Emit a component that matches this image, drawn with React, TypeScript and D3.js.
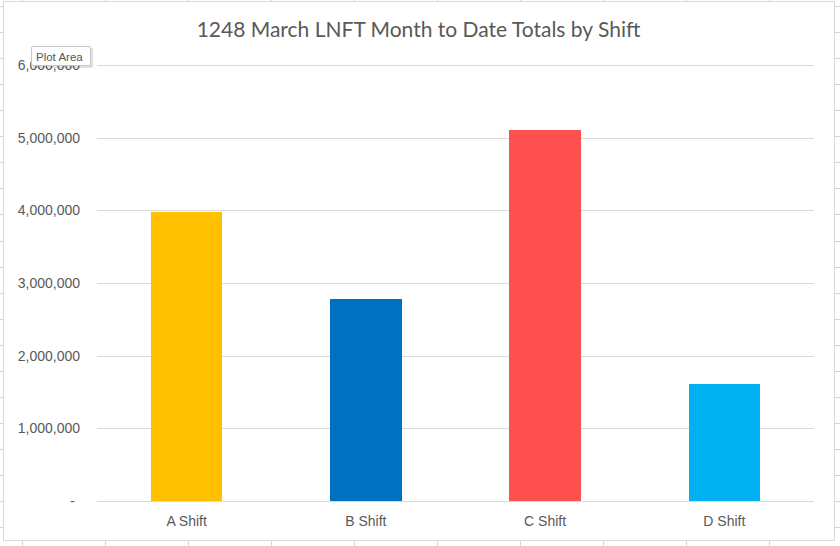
import React from "react";
import * as d3 from "d3";

const categories = ["A Shift", "B Shift", "C Shift", "D Shift"];
const values = [3975000, 2785000, 5110000, 1615000];
const barColors = ["#FFC000", "#0070C0", "#FF5050", "#00B0F0"];
const yTicks = [0, 1000000, 2000000, 3000000, 4000000, 5000000, 6000000];
const title = "1248 March LNFT Month to Date Totals by Shift";

const W = 840;
const H = 546;

export default function App() {
  const plot = { left: 97, right: 814, top: 65, bottom: 501 };
  const y = d3.scaleLinear().domain([0, 6000000]).range([plot.bottom, plot.top]);
  const x = d3
    .scaleBand<string>()
    .domain(categories)
    .range([plot.left, plot.right])
    .paddingInner(0.6)
    .paddingOuter(0.3);
  const fmt = d3.format(",");

  const chart = { x0: 3.5, y0: 1.5, x1: 834.5, y1: 540.5 };
  const colLines = d3.range(22, W + 1, 83);
  const rowLines = d3.range(6, H + 1, 26.06);
  const cellColor = "#d6d6d6";
  const textColor = "#595959";

  return (
    <svg
      width={W}
      height={H}
      style={{ position: "absolute", left: 0, top: 0, background: "#fff" }}
    >
      {/* spreadsheet cell grid behind chart */}
      <g shapeRendering="crispEdges">
        {colLines.map((cx, i) => (
          <line key={"c" + i} x1={cx + 0.5} x2={cx + 0.5} y1={0} y2={H} stroke={cellColor} />
        ))}
        {rowLines.map((ry, i) => (
          <line key={"r" + i} x1={0} x2={W} y1={Math.round(ry) + 0.5} y2={Math.round(ry) + 0.5} stroke={cellColor} />
        ))}
      </g>
      {/* chart area */}
      <rect
        x={chart.x0}
        y={chart.y0}
        width={chart.x1 - chart.x0}
        height={chart.y1 - chart.y0}
        fill="#fff"
        stroke="#d9d9d9"
        strokeWidth={1}
        shapeRendering="crispEdges"
      />
      <text
        x={418.5}
        y={37}
        textAnchor="middle"
        fontFamily="Lato, 'Open Sans', sans-serif"
        fontSize={21}
        fill={textColor}
      >
        {title}
      </text>
      {/* gridlines */}
      <g shapeRendering="crispEdges">
        {yTicks.map((t) => (
          <line
            key={t}
            x1={plot.left}
            x2={plot.right}
            y1={Math.round(y(t)) + 0.5}
            y2={Math.round(y(t)) + 0.5}
            stroke="#d9d9d9"
            strokeWidth={1}
          />
        ))}
      </g>
      {/* y labels */}
      <g fontFamily="'Liberation Sans', Arial, sans-serif" fontSize={14} fill={textColor}>
        {yTicks.map((t) => (
          <text key={t} x={t === 0 ? 75 : 80} y={y(t) + 5} textAnchor="end">
            {t === 0 ? "-" : fmt(t)}
          </text>
        ))}
      </g>
      {/* bars */}
      <g shapeRendering="crispEdges">
        {categories.map((c, i) => (
          <rect
            key={c}
            x={x(c)}
            y={y(values[i])}
            width={x.bandwidth()}
            height={y(0) - y(values[i])}
            fill={barColors[i]}
          />
        ))}
      </g>
      {/* x labels */}
      <g fontFamily="'Liberation Sans', Arial, sans-serif" fontSize={14} fill={textColor}>
        {categories.map((c) => (
          <text key={c} x={(x(c) as number) + x.bandwidth() / 2} y={526} textAnchor="middle">
            {c}
          </text>
        ))}
      </g>
      {/* Excel tooltip */}
      <g>
        <rect x={33} y={48} width={60} height={20} fill="#000" opacity={0.12} rx={1} />
        <rect x={31.5} y={46.5} width={59} height={19} fill="#fff" stroke="#c6c6c6" rx={1.5} />
        <text x={36} y={60.5} fontFamily="'Liberation Sans', Arial, sans-serif" fontSize={11.5} fill="#555">
          Plot Area
        </text>
      </g>
    </svg>
  );
}
